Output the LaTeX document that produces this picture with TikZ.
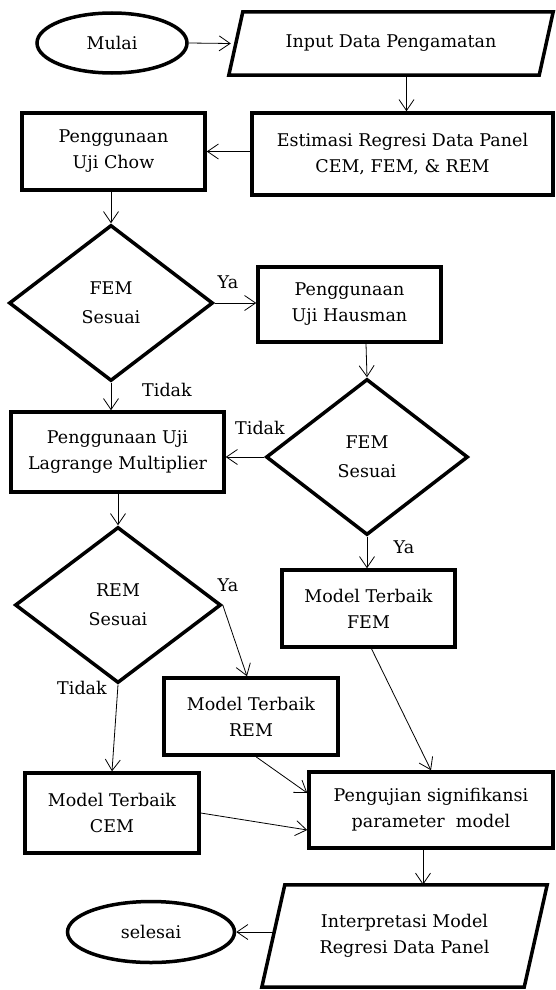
\documentclass[tikz,border=0pt]{standalone}
\usepackage{fontspec}
\setmainfont{DejaVu Serif}
\usetikzlibrary{shapes.geometric,arrows.meta}
\begin{document}
\begin{tikzpicture}[x=1pt,y=-1pt,
  every node/.style={font=\fontsize{17.5}{26}\selectfont, align=center},
  boxnode/.style={draw, line width=3.5pt, rectangle, inner sep=0pt},
  decnode/.style={draw, line width=3.5pt, diamond, inner sep=0pt, font=\fontsize{17.5}{29}\selectfont},
  termnode/.style={draw, line width=3.5pt, ellipse, inner sep=0pt},
  ionode/.style={rectangle, inner sep=0pt},
  lbl/.style={inner sep=0pt},
  arr/.style={line width=0.8pt, -{Straight Barb[length=11pt,width=15pt,line width=0.8pt]}}
]
\useasboundingbox (0,0) rectangle (555,990);
% nodes
\node[termnode, minimum width=150pt, minimum height=60pt] (mulai) at (112,43) {Mulai};
\node[ionode, minimum width=310pt, minimum height=63pt] (inp) at (391,43.5) {Input Data Pengamatan};
\draw[line width=3.5pt, line join=miter] ([xshift=7pt]inp.north west) -- ([xshift=7pt]inp.north east) -- ([xshift=-7pt]inp.south east) -- ([xshift=-7pt]inp.south west) -- cycle;
\node[boxnode, minimum width=301pt, minimum height=82pt] (est) at (402.5,154) {Estimasi Regresi Data Panel\\CEM, FEM, \& REM};
\node[boxnode, minimum width=183pt, minimum height=77pt] (chow) at (113.5,151.5) {Penggunaan\\Uji Chow};
\node[decnode, minimum width=204pt, minimum height=156pt] (fem1) at (111,303) {FEM\\Sesuai};
\node[boxnode, minimum width=183pt, minimum height=75pt] (haus) at (349.5,304.5) {Penggunaan\\Uji Hausman};
\node[decnode, minimum width=202pt, minimum height=156pt] (fem2) at (367,457) {FEM\\Sesuai};
\node[boxnode, minimum width=213pt, minimum height=80pt] (lagr) at (117.5,452) {Penggunaan Uji\\Lagrange Multiplier};
\node[decnode, minimum width=206pt, minimum height=156pt] (rem) at (118,605) {REM\\Sesuai};
\node[boxnode, minimum width=173pt, minimum height=77pt] (modfem) at (368.5,608.5) {Model Terbaik\\FEM};
\node[boxnode, minimum width=174pt, minimum height=77pt] (modrem) at (251,716.5) {Model Terbaik\\REM};
\node[boxnode, minimum width=174pt, minimum height=80pt] (modcem) at (112,813) {Model Terbaik\\CEM};
\node[boxnode, minimum width=244pt, minimum height=76pt] (peng) at (431,810) {Pengujian signifikansi\\parameter~ model};
\node[ionode, minimum width=262pt, minimum height=102pt] (interp) at (404.5,936) {Interpretasi Model\\Regresi Data Panel};
\draw[line width=3.5pt, line join=miter] ([xshift=11.5pt]interp.north west) -- ([xshift=11.5pt]interp.north east) -- ([xshift=-11.5pt]interp.south east) -- ([xshift=-11.5pt]interp.south west) -- cycle;
\node[termnode, minimum width=167pt, minimum height=61pt] (selesai) at (151,932) {selesai};
% labels
\node[lbl] (ya1) at (228,282) {Ya};
\node[lbl] (tidak1) at (167,390) {Tidak};
\node[lbl] (tidak2) at (260,428) {Tidak};
\node[lbl] (ya2) at (404,547) {Ya};
\node[lbl] (ya3) at (228,585) {Ya};
\node[lbl] (tidak3) at (82,688) {Tidak};
% connectors
\draw[arr] (mulai.east) -- ([xshift=-5pt]inp.west);
\draw[arr] ([xshift=4pt]est.north |- inp.south) -- ([xshift=4pt]est.north);
\draw[arr] (est.west |- chow.east) -- (chow.east);
\draw[arr] (chow.south -| fem1.north) -- (fem1.north);
\draw[arr] (fem1.east) -- (haus.west |- fem1.east);
\draw[arr] ([xshift=-1pt]haus.south -| fem2.north) -- (fem2.north);
\draw[arr] (fem1.south) -- (lagr.north -| fem1.south);
\draw[arr] (fem2.west) -- (lagr.east |- fem2.west);
\draw[arr] (lagr.south -| rem.north) -- (rem.north);
\draw[arr] (fem2.south) -- (modfem.north -| fem2.south);
\draw[arr] (rem.east) -- ([xshift=-4pt]modrem.north);
\draw[arr] (rem.south) -- (modcem.north);
\draw[arr] ([xshift=3pt]modfem.south) -- (peng.north);
\draw[arr] ([xshift=5pt]modrem.south) -- ([yshift=17pt]peng.west);
\draw[arr] (modcem.east) -- ([yshift=-20pt]peng.west);
\draw[arr] ([xshift=-8pt]peng.south) -- ([xshift=-8pt]peng.south |- interp.north);
\draw[arr] (interp.west |- selesai.east) -- (selesai.east);
\end{tikzpicture}
\end{document}
